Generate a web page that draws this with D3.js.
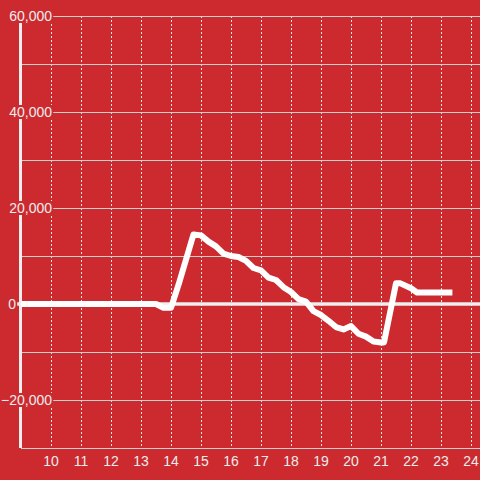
<!DOCTYPE html>
<html><head><meta charset="utf-8">
<script src="https://cdn.jsdelivr.net/npm/d3@7"></script>
<style>html,body{margin:0;padding:0;background:#cc2a2f;}svg{display:block;}</style>
</head><body>
<svg id="c" width="480" height="480"></svg>
<script>
const hours = [9, 13.5, 13.75, 14.0, 14.25, 14.75, 15.0, 15.25, 15.5, 15.75, 16.0, 16.25, 16.5, 16.75, 17.0, 17.25, 17.5, 17.75, 18.0, 18.25, 18.5, 18.75, 19.0, 19.25, 19.5, 19.75, 20.0, 20.25, 20.5, 20.75, 21.0, 21.1, 21.5, 21.65, 22.0, 22.2, 23.38];
const values = [0, 0, -800, -800, 4000, 14500, 14300, 13000, 12000, 10500, 10000, 9800, 9000, 7500, 7000, 5500, 5000, 3500, 2500, 1000, 500, -1500, -2300, -3500, -4800, -5300, -4600, -6200, -6800, -7800, -8000, -8000, 4300, 4300, 3300, 2400, 2400];
const xTicks = [10, 11, 12, 13, 14, 15, 16, 17, 18, 19, 20, 21, 22, 23, 24];
const yGrid = [-30000, -20000, -10000, 10000, 20000, 30000, 40000, 50000, 60000];
const yLabels = [-20000, 0, 20000, 40000, 60000];

const svg = d3.select("#c");
const W = 480, H = 480;
const bg = "#cc2a2f";
svg.append("rect").attr("width", W).attr("height", H).attr("fill", bg);

const x = d3.scaleLinear().domain([9, 24.3]).range([21, 480]);
const y = d3.scaleLinear().domain([-30000, 60000]).range([448, 16]);

// vertical dashed grid
svg.append("g").selectAll("line").data(xTicks).join("line")
  .attr("x1", d => Math.round(x(d)) + 0.5).attr("x2", d => Math.round(x(d)) + 0.5)
  .attr("y1", y(60000)).attr("y2", y(-30000))
  .attr("stroke", "#e6e6e6").attr("stroke-width", 1).attr("stroke-dasharray", "2,2");

// horizontal grid
svg.append("g").selectAll("line").data(yGrid).join("line")
  .attr("x1", 21).attr("x2", W)
  .attr("y1", d => Math.round(y(d)) + 0.5).attr("y2", d => Math.round(y(d)) + 0.5)
  .attr("stroke", "#cfcfcf").attr("stroke-width", 1);

// y axis line
svg.append("line").attr("x1", 20.5).attr("x2", 20.5).attr("y1", y(60000)).attr("y2", y(-30000))
  .attr("stroke", "#eeeeee").attr("stroke-width", 3);

// zero line
svg.append("line").attr("x1", 17).attr("x2", W).attr("y1", y(0)).attr("y2", y(0))
  .attr("stroke", "#eeeeee").attr("stroke-width", 3.5);

// y labels with background
const fmt = d3.format(",");
const yl = svg.append("g").attr("font-family", "Liberation Sans, Arial, sans-serif").attr("font-size", 14).attr("fill", "#eeeeee");
yLabels.forEach(v => {
  const right = v === 0 ? 16 : 52;
  const t = yl.append("text").attr("x", right).attr("y", y(v) + 5).attr("text-anchor", "end").text(fmt(v));
  const bb = t.node().getBBox();
  yl.insert("rect", "text").attr("x", bb.x - 1).attr("y", y(v) - 7).attr("width", bb.width + 2).attr("height", 14).attr("fill", bg);
});

// x labels
svg.append("g").attr("font-family", "Liberation Sans, Arial, sans-serif").attr("font-size", 14).attr("fill", "#eeeeee")
  .selectAll("text").data(xTicks).join("text")
  .attr("x", d => x(d)).attr("y", 466).attr("text-anchor", "middle").text(d => d);

// data line
const pts = hours.map((h, i) => [h, values[i]]);
svg.append("path").datum(pts)
  .attr("d", d3.line().x(d => x(d[0])).y(d => y(d[1])))
  .attr("fill", "none").attr("stroke", "#ffffff").attr("stroke-width", 6)
  .attr("stroke-linejoin", "round").attr("stroke-linecap", "butt");
</script>
</body></html>
